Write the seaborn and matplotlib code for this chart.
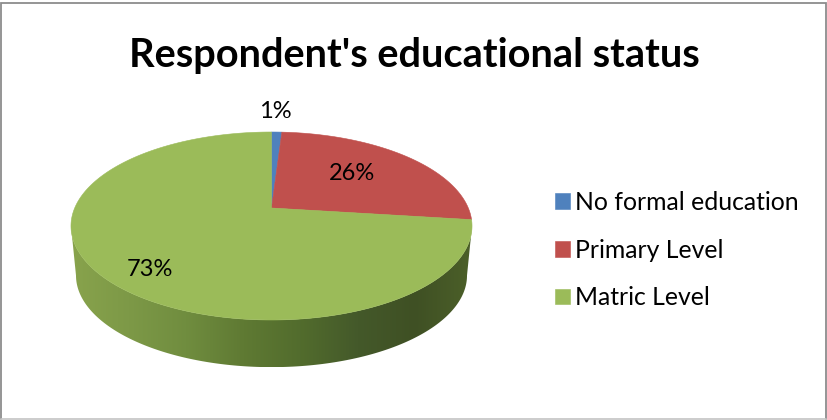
import numpy as np
import matplotlib
matplotlib.use("Agg")
import matplotlib.pyplot as plt
from matplotlib.colors import LinearSegmentedColormap
from matplotlib.patches import Polygon
import seaborn as sns

# Survey shares, in percent
categories = ["No formal education", "Primary Level", "Matric Level"]
shares = [1, 26, 73]
slice_colors = ["#4F81BD", "#C0504D", "#9BBB59"]
wall_colors = ["#88A34C", "#7D9947", "#708D3F", "#5F7A33", "#526C2D", "#44592A", "#3F5024", "#4C6029"]
chart_title = "Respondent's educational status"

sns.set_theme(style="white")
plt.rcParams["font.family"] = ["Lato", "DejaVu Sans"]

W, H = 827, 420
fig = plt.figure(figsize=(W / 100, H / 100), dpi=100, facecolor="white")
ax = fig.add_axes([0, 0, 1, 1])

# Tilted-disc projection: unit disc to pixel coordinates, with the far side foreshortened
APEX_X, APEX_Y = 271.5, 208.0
SCALE_X, SCALE_Y, PERSPECTIVE = 196.8, 90.55, 0.1915


def project(theta_deg):
    t = np.radians(theta_deg)
    u, v = np.cos(t), np.sin(t)
    w = 1 + PERSPECTIVE * v
    return APEX_X + SCALE_X * u / w, APEX_Y - SCALE_Y * v / w


wedges, _ = ax.pie(shares, colors=slice_colors, startangle=90, counterclock=False)
angles = [(w.theta1, w.theta2) for w in wedges]
for w in wedges:
    w.remove()

ax.set_aspect("auto")
ax.axis("off")

# Side wall: region between the front rim and the same rim shifted down and slightly shrunk,
# spanning the rim's left and right extremes so the wall's sides drop straight from them
front = np.linspace(191, 349, 200)
top_x, top_y = project(front)
RIM_CY = 226.0
WALL_DROP, WALL_SHRINK = 49.5, 0.975
bot_x = APEX_X + (top_x - APEX_X) * WALL_SHRINK
bot_y = RIM_CY + (top_y - RIM_CY) * WALL_SHRINK + WALL_DROP
wall_pts = np.r_[np.c_[top_x, top_y], np.c_[bot_x, bot_y][::-1]]
wall = Polygon(wall_pts, closed=True, facecolor="none", edgecolor="none")
ax.add_patch(wall)
cmap = LinearSegmentedColormap.from_list("wall", wall_colors)
shade = ax.imshow(np.linspace(0, 1, 256)[None, :], cmap=cmap, aspect="auto",
                  extent=(top_x.min(), top_x.max(), bot_y.max(), top_y.min() - 2), zorder=1)
shade.set_clip_path(wall)
ax.set_xlim(0, W)
ax.set_ylim(H, 0)

# Top face
handles = []
for (t1, t2), color in zip(angles, slice_colors):
    th = np.linspace(t1, t2, max(int(t2 - t1) * 2, 8))
    x, y = project(th)
    pts = np.r_[[[APEX_X, APEX_Y]], np.c_[x, y]]
    patch = Polygon(pts, closed=True, facecolor=color, edgecolor=color, linewidth=0.4, zorder=2)
    ax.add_patch(patch)
    handles.append(patch)

# Percent labels
label_xy = [(275, 112), (352, 174), (150, 270)]
for value, (lx, ly) in zip(shares, label_xy):
    ax.text(lx, ly, f"{value}%", fontsize=17, color="black", ha="center", va="center", zorder=3)

ax.text(414, 55, chart_title, fontsize=28.6, fontweight="bold", color="black",
        ha="center", va="center")

ax.legend(handles, categories, loc="center left", bbox_to_anchor=(547.5 / W, 1 - 250 / H),
          frameon=False, fontsize=17.8, handlelength=0.607, handleheight=0.607,
          handletextpad=0.22, labelspacing=1.0, borderpad=0.3, borderaxespad=0, labelcolor="black")

# Chart-area border
ax.plot([1, 1, 825.7, 825.7], [419, 2.7, 2.7, 419], color="#8C8C8C", linewidth=1.3,
        solid_joinstyle="miter", zorder=5)
ax.plot([1, 825.7], [419, 419], color="#C4C4C4", linewidth=1.2, zorder=5)

fig.savefig("out.png", dpi=100, facecolor="white")
